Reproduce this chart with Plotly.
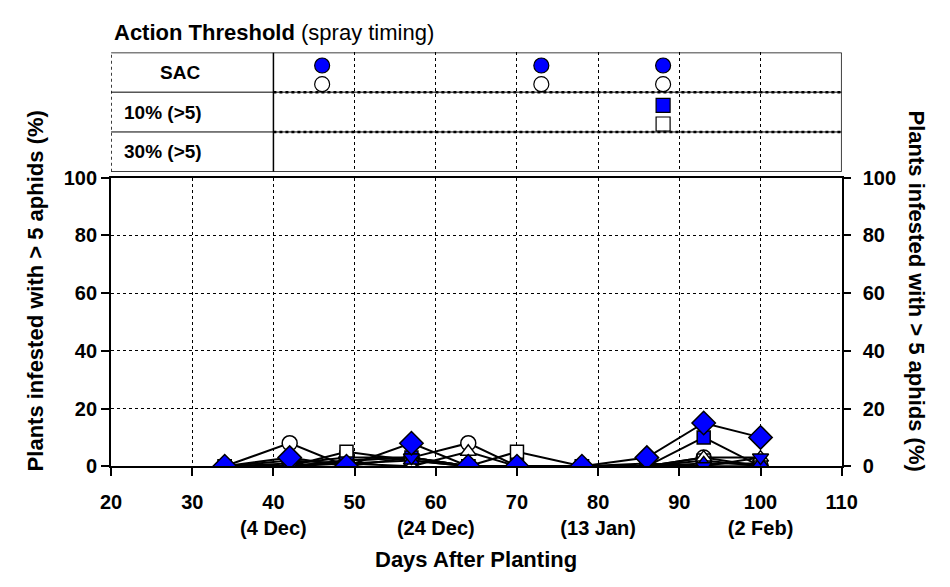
import plotly.graph_objects as go

W, H = 950, 587
FONT = "Liberation Sans, Arial, sans-serif"
BLUE = "#0000FF"

# Sampling dates (days after planting)
days = [34, 42, 49, 57, 64, 70, 78, 86, 93, 100]

# Plants infested with > 5 aphids (%)
sac_blue = [0, 0, 2, 3, 0, 0, 0, 0, 0, 0]
sac_white = [0, 8, 0, 3, 8, 0, 0, 0, 3, 0]
t10_blue = [0, 1, 3, 3, 0, 0, 0, 0, 10, 0]
t10_white = [0, 0, 5, 2, 0, 5, 0, 0, 2, 0]
t30_blue = [0, 0, 2, 3, 0, 0, 0, 1, 0, 3]
t30_white = [0, 2, 1, 0, 5, 0, 0, 0, 3, 3]
t30_blue_up = [0, 0, 1, 2, 0, 0, 0, 0, 1, 1]
control = [0, 3, 0, 8, 0, 0, 0, 3, 15, 10]

# Spray timing (days after planting) per action threshold
sac_spray = [46, 73, 88]
t10_spray = [88]
row_labels = ["SAC", "10% (>5)", "30% (>5)"]

x_ticks = [20, 30, 40, 50, 60, 70, 80, 90, 100, 110]
x_ticktext = ["20", "30", "40<br>(4 Dec)", "50", "60<br>(24 Dec)", "70",
              "80<br>(13 Jan)", "90", "100<br>(2 Feb)", "110"]
y_ticks = [0, 20, 40, 60, 80, 100]


def px_x(p):
    return p / W


def px_y(p):
    return 1 - p / H


xdom = [px_x(103), px_x(855)]
main_dom = [px_y(473), px_y(173)]
top_dom = [px_y(167), px_y(43)]

fig = go.Figure()

series = [
    (sac_blue, "circle", BLUE, 15),
    (sac_white, "circle", "white", 15),
    (t10_blue, "square", BLUE, 13),
    (t10_white, "square", "white", 13),
    (t30_white, "triangle-up", "white", 14),
    (t30_blue_up, "triangle-up", BLUE, 14),
    (t30_blue, "triangle-down", BLUE, 14),
    (control, "diamond", BLUE, 18),
]
for vals, sym, col, size in series:
    fig.add_trace(go.Scatter(
        x=days, y=vals, mode="lines+markers", xaxis="x", yaxis="y",
        line=dict(color="black", width=2),
        marker=dict(symbol=sym, size=size, color=col,
                    line=dict(color="black", width=1.5)),
        showlegend=False, hoverinfo="skip",
    ))

# invisible trace so the right-hand axis renders
fig.add_trace(go.Scatter(x=[20], y=[0], xaxis="x", yaxis="y3", mode="markers",
                         marker=dict(opacity=0), showlegend=False, hoverinfo="skip"))

# Spray timing markers (upper panel rows: SAC = 2..3, 10% = 1..2, 30% = 0..1)
fig.add_trace(go.Scatter(x=sac_spray, y=[2.67] * len(sac_spray), xaxis="x2", yaxis="y2",
                         mode="markers", marker=dict(symbol="circle", size=15, color=BLUE,
                                                     line=dict(color="black", width=1.2)),
                         showlegend=False, hoverinfo="skip"))
fig.add_trace(go.Scatter(x=sac_spray, y=[2.2] * len(sac_spray), xaxis="x2", yaxis="y2",
                         mode="markers", marker=dict(symbol="circle", size=15, color="white",
                                                     line=dict(color="black", width=1.2)),
                         showlegend=False, hoverinfo="skip"))
fig.add_trace(go.Scatter(x=t10_spray, y=[1.67] * len(t10_spray), xaxis="x2", yaxis="y2",
                         mode="markers", marker=dict(symbol="square", size=14, color=BLUE,
                                                     line=dict(color="black", width=1.2)),
                         showlegend=False, hoverinfo="skip"))
fig.add_trace(go.Scatter(x=t10_spray, y=[1.2] * len(t10_spray), xaxis="x2", yaxis="y2",
                         mode="markers", marker=dict(symbol="square", size=14, color="white",
                                                     line=dict(color="black", width=1.2)),
                         showlegend=False, hoverinfo="skip"))

tickfont = dict(family=FONT, size=20, color="black", weight="bold")
grid = dict(showgrid=True, gridcolor="black", gridwidth=1, griddash="dot")

fig.update_layout(
    width=W, height=H, autosize=False,
    margin=dict(l=0, r=0, t=0, b=0),
    paper_bgcolor="white", plot_bgcolor="white",
    font=dict(family=FONT, color="black"),
    xaxis=dict(domain=xdom, anchor="y", range=[20, 110], tickvals=x_ticks,
               ticktext=x_ticktext, tickfont=tickfont, ticks="outside", ticklen=8,
               tickwidth=2, tickcolor="black", ticklabelstandoff=9, showline=True,
               linewidth=2, linecolor="black", mirror=True, zeroline=False, **grid),
    yaxis=dict(domain=main_dom, anchor="x", range=[0, 100], tickvals=y_ticks,
               tickfont=tickfont, ticks="outside", ticklen=8, tickwidth=2,
               tickcolor="black", showline=True, linewidth=2, linecolor="black",
               mirror=True, zeroline=False, **grid),
    yaxis3=dict(overlaying="y", side="right", anchor="x", range=[0, 100],
                tickvals=y_ticks, tickfont=tickfont, ticks="outside", ticklen=8,
                tickwidth=2, tickcolor="black", ticklabelstandoff=8, showline=False,
                showgrid=False, zeroline=False),
    xaxis2=dict(domain=xdom, anchor="y2", range=[20, 110],
                tickvals=[50, 60, 70, 80, 90, 100], showticklabels=False, ticks="",
                showline=False, zeroline=False, **grid),
    yaxis2=dict(domain=top_dom, anchor="x2", range=[0, 3], showgrid=False,
                showticklabels=False, ticks="", showline=False, zeroline=False),
)

# Upper panel frame, column divider and row separators
shapes = [
    dict(type="line", xref="x2", yref="y2", x0=20, x1=110, y0=3, y1=3,
         line=dict(color="black", width=1.5)),
    dict(type="line", xref="x2", yref="y2", x0=20, x1=110, y0=0, y1=0,
         line=dict(color="black", width=1.5)),
    dict(type="line", xref="x2", yref="y2", x0=110, x1=110, y0=0, y1=3,
         line=dict(color="black", width=1.5)),
    dict(type="line", xref="x2", yref="y2", x0=20, x1=20, y0=0, y1=3,
         line=dict(color="black", width=1.5, dash="dot")),
    dict(type="line", xref="x2", yref="y2", x0=40, x1=40, y0=0, y1=3,
         line=dict(color="black", width=1.5)),
]
for yy in (1, 2):
    shapes.append(dict(type="line", xref="x2", yref="y2", x0=20, x1=110, y0=yy, y1=yy,
                       line=dict(color="black", width=1)))
    shapes.append(dict(type="line", xref="x2", yref="y2", x0=40, x1=110, y0=yy, y1=yy,
                       line=dict(color="black", width=2.5, dash="dot")))
fig.update_layout(shapes=shapes)

label_font = dict(family=FONT, size=19, color="black", weight="bold")
title_font = dict(family=FONT, size=22, color="black", weight="bold")
annotations = [
    dict(text=row_labels[0], xref="x2", yref="y2", x=28.5, y=2.5, showarrow=False,
         xanchor="center", yanchor="middle", font=label_font),
    dict(text=row_labels[1], xref="x2", yref="y2", x=21.4, y=1.5, showarrow=False,
         xanchor="left", yanchor="middle", font=label_font),
    dict(text=row_labels[2], xref="x2", yref="y2", x=21.4, y=0.5, showarrow=False,
         xanchor="left", yanchor="middle", font=label_font),
    dict(text="<b>Action Threshold</b> (spray timing)", xref="paper", yref="paper",
         x=px_x(104), y=px_y(22), xanchor="left", yanchor="middle", showarrow=False,
         font=dict(family=FONT, size=22, color="black")),
    dict(text="Plants infested with > 5 aphids (%)", xref="paper", yref="paper",
         x=px_x(25), y=px_y(291), xanchor="center", yanchor="middle", textangle=-90,
         showarrow=False, font=title_font),
    dict(text="Plants infested with > 5 aphids (%)", xref="paper", yref="paper",
         x=px_x(932), y=px_y(291), xanchor="center", yanchor="middle", textangle=90,
         showarrow=False, font=title_font),
    dict(text="Days After Planting", xref="paper", yref="paper",
         x=px_x(479), y=px_y(585), xanchor="center", yanchor="bottom",
         showarrow=False, font=title_font),
]
fig.update_layout(annotations=annotations)

fig.write_html("out.html")
